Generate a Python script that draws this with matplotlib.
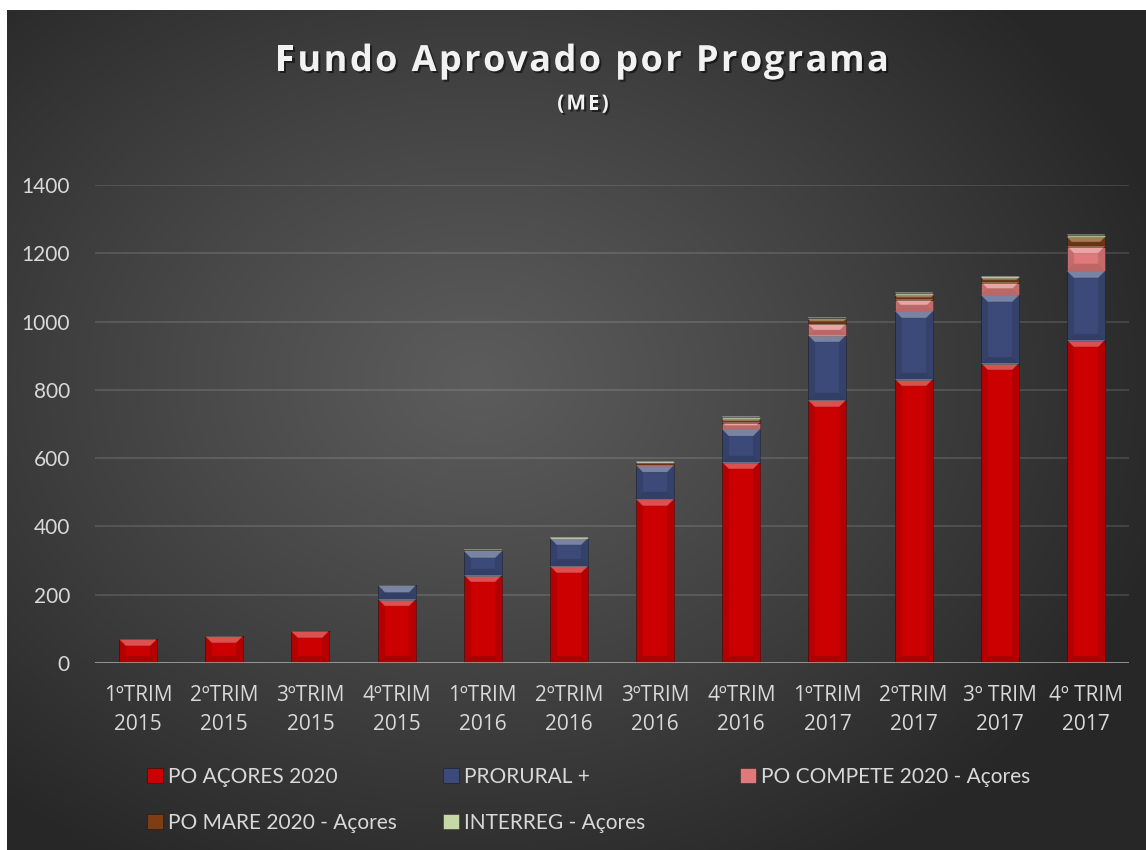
import numpy as np
import matplotlib.pyplot as plt
from matplotlib.patches import Patch
import matplotlib.patheffects as pe

plt.rcParams['font.family'] = ['Lato', 'DejaVu Sans']

categories = ['1ºTRIM\n2015', '2ºTRIM\n2015', '3ºTRIM\n2015', '4ºTRIM\n2015',
              '1ºTRIM\n2016', '2ºTRIM\n2016', '3ºTRIM\n2016', '4ºTRIM\n2016',
              '1ºTRIM\n2017', '2ºTRIM\n2017', '3º TRIM\n2017', '4º TRIM\n2017']
po_acores = [69, 79, 93, 185, 255, 283, 480, 586, 770, 830, 876, 944]
prorural = [0, 0, 0, 42, 72, 81, 98, 98, 188, 200, 201, 204]
compete = [0, 0, 0, 0, 0, 0, 2, 20, 35, 34, 37, 71]
mare = [0, 0, 0, 0, 0, 0, 6, 10, 14, 13, 15, 28]
interreg = [0, 0, 0, 0, 4, 4, 5, 6, 4, 6, 5, 7]

series = [('PO AÇORES 2020', po_acores, '#cc0000'),
          ('PRORURAL +', prorural, '#3b4a78'),
          ('PO COMPETE 2020 - Açores', compete, '#e07a7a'),
          ('PO MARE 2020 - Açores', mare, '#7e3d12'),
          ('INTERREG - Açores', interreg, '#c6d8a6')]

W, H = 1146, 850
fig = plt.figure(figsize=(W / 100, H / 100), dpi=100)
fig.patch.set_facecolor('white')

# dark radial background
bg = fig.add_axes([7 / W, 0, 1 - 7 / W, 1 - 10 / H], zorder=-10)
yy, xx = np.mgrid[0:840, 0:1139]
r = np.sqrt(((xx - 470) / 720.0) ** 2 + ((yy - 370) / 560.0) ** 2)
t = np.clip(r, 0, 1) ** 1.1
c0 = np.array([0x5c, 0x5c, 0x5c]) / 255
c1 = np.array([0x27, 0x27, 0x27]) / 255
bg.imshow(c0 + (c1 - c0) * t[..., None], aspect='auto', interpolation='bilinear')
bg.axis('off')

ax = fig.add_axes([95 / W, (H - 663) / H, 1034 / W, 478 / H])
ax.set_facecolor('none')
x = np.arange(len(categories))
ax.set_xlim(-0.5, len(categories) - 0.5)
ax.set_ylim(0, 1400)


def bevel(ax, rect):
    x0, y0 = rect.get_x(), rect.get_y()
    w, h = rect.get_width(), rect.get_height()
    if h <= 0:
        return
    p0 = ax.transData.transform((x0, y0))
    p1 = ax.transData.transform((x0 + w, y0 + h))
    wp = max(int(round(p1[0] - p0[0])), 1) * 2
    hp = max(int(round(p1[1] - p0[1])), 1) * 2
    b = min(14, wp / 2, hp / 2)
    i = np.arange(hp)[:, None] + 0.5 + np.zeros((1, wp))
    j = np.arange(wp)[None, :] + 0.5 + np.zeros((hp, 1))
    d = np.stack([i, hp - i, j, wp - j])
    face = d.argmin(0)
    inside = d.min(0) < b
    ov = np.zeros((hp, wp, 4))
    ov[inside & (face == 0)] = [1, 1, 1, 0.32]
    ov[inside & (face == 1)] = [0, 0, 0, 0.16]
    ov[inside & ((face == 2) | (face == 3))] = [0, 0, 0, 0.12]
    ax.imshow(ov, extent=(x0, x0 + w, y0, y0 + h), aspect='auto',
              interpolation='bilinear', zorder=3)


bottom = np.zeros(len(categories))
handles = []
for name, vals, col in series:
    vals = np.array(vals, dtype=float)
    bars = ax.bar(x, vals, 0.44, bottom=bottom, color=col,
                  edgecolor=(0, 0, 0, 0.35), linewidth=0.6, zorder=2)
    for rect in bars:
        bevel(ax, rect)
    bottom += vals
    handles.append(Patch(facecolor=col, edgecolor=(0, 0, 0, 0.4), linewidth=0.6, label=name))

ax.set_xlim(-0.5, len(categories) - 0.5)
ax.set_ylim(0, 1400)
ax.set_yticks(range(0, 1401, 200))
ax.set_xticks(x)
ax.set_xticklabels(categories, linespacing=1.5, family=['Open Sans', 'DejaVu Sans'], fontsize=15)
for s in ax.spines.values():
    s.set_visible(False)
ax.tick_params(axis='both', length=0, colors='#d9d9d9')
ax.tick_params(axis='y', pad=18, labelsize=15)
ax.tick_params(axis='x', pad=16)
ax.yaxis.grid(True, color='white', alpha=0.13, linewidth=1.3)
ax.set_axisbelow(True)
ax.axhline(0, color='#a8a8a8', linewidth=1.8, zorder=4)

# legend, three columns laid out like the original
cols = [(147, [handles[0], handles[3]]), (443, [handles[1], handles[4]]), (740, [handles[2]])]
for lx, hs in cols:
    fig.legend(handles=hs, loc='upper left', bbox_to_anchor=(lx / W, 1 - 767 / H),
               frameon=False, fontsize=15, handlelength=0.75, handleheight=0.75,
               handletextpad=0.25, borderpad=0, borderaxespad=0, labelspacing=1.25,
               labelcolor='#d9d9d9')

# title with letter spacing
shadow = [pe.withSimplePatchShadow(offset=(1.5, -1.5), shadow_rgbFace='black', alpha=0.5)]
renderer = fig.canvas.get_renderer()


def spaced(s, cx, cy, gap, size):
    kw = dict(fontsize=size, fontweight='bold', family=['Open Sans', 'DejaVu Sans'])

    def width(txt):
        tt = fig.text(0, 0, txt + '|', **kw)
        ww = tt.get_window_extent(renderer).width
        tt.remove()
        return ww

    bar_w = width('')
    offs = [width(s[:k]) - bar_w for k in range(len(s) + 1)]
    total = offs[-1] + gap * (len(s) - 1)
    left = cx - total / 2
    for k, ch in enumerate(s):
        if ch == ' ':
            continue
        fig.text((left + offs[k] + gap * k) / W, 1 - cy / H, ch, ha='left', va='center',
                 color='#f2f2f2', path_effects=shadow, **kw)


spaced('Fundo Aprovado por Programa', 582, 62, 2.4, 26)
spaced('(ME)', 583, 104, 2.0, 15)

fig.savefig('out.png', dpi=100)
